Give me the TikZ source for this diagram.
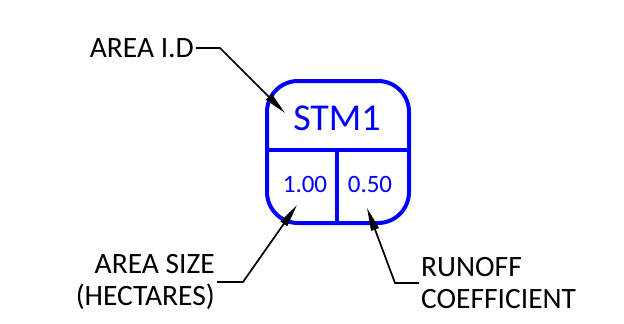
\documentclass[tikz,border=0pt]{standalone}
\usepackage{fontspec}
\setmainfont{Carlito}
\usetikzlibrary{arrows.meta}
\definecolor{cadblue}{RGB}{0,0,255}
\begin{document}
\begin{tikzpicture}[x=1pt,y=-1pt,
  outline/.style={draw=cadblue,line width=4pt},
  leader/.style={draw=black,line width=1.7pt,line join=miter,
    -{Triangle[length=23pt,width=8pt]}},
  callout/.style={font=\fontsize{29.5}{31.5}\selectfont,inner sep=2pt},
  cellnum/.style={font=\fontsize{25}{28}\selectfont,text=cadblue,inner sep=0pt}]
\useasboundingbox (0,0) rectangle (624,324);

% catchment tag: rounded box split into id and two value cells
\draw[outline,rounded corners=31pt] (267,81) rectangle (409,223);
\draw[outline] (267,150) -- (409,150);
\draw[outline] (337,150) -- (337,223);

\node[font=\fontsize{38}{42}\selectfont,text=cadblue,inner sep=0pt] (stm) at (337,118) {STM1};
\node[cellnum] (size) at (305,184) {1.00};
\node[cellnum] (coeff) at (370,184) {0.50};

% callout texts
\node[callout,anchor=east] (idlabel) at (196,48) {AREA I.D};
\node[callout,anchor=east,align=right] (sizelabel) at (217,282) {AREA SIZE\\(HECTARES)};
\node[callout,anchor=west,align=left] (coefflabel) at (419,283) {RUNOFF\\COEFFICIENT};

% leader bends and arrow tips
\coordinate (idknee) at (220,48);
\coordinate (idtip) at (285,113);
\coordinate (sizeknee) at (243,282);
\coordinate (sizetip) at (297,205);
\coordinate (coeffknee) at (395,283);
\coordinate (coefftip) at (367,208);

\draw[leader] (idlabel.east) -- (idknee) -- (idtip);
\draw[leader] (sizelabel.east) -- (sizeknee) -- (sizetip);
\draw[leader] (coefflabel.west) -- (coeffknee) -- (coefftip);
\end{tikzpicture}
\end{document}
